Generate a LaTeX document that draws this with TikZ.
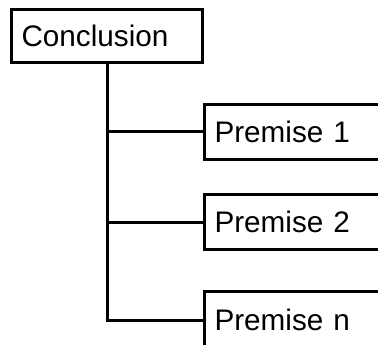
\documentclass[tikz,border=0pt]{standalone}
\usepackage{fontspec}
\setmainfont{Liberation Sans}
\usetikzlibrary{positioning}

\tikzset{
    argbox/.style={draw, line width=3pt, anchor=north west, inner xsep=10pt,
        align=left, minimum height=55pt, font=\fontsize{29.7}{34}\selectfont}
}

\begin{document}
\begin{tikzpicture}[x=1pt, y=-1pt]
            \clip (0,0) rectangle (378,345);

            \node[argbox, text width=171pt, minimum height=53pt] at (10,8) (concl) {Conclusion};

            \node[argbox, text width=170pt] at (203,103) (p1) {Premise 1};
            \node[argbox, text width=170pt] at (203,193) (p2) {Premise 2};
            \node[argbox, text width=170pt, minimum height=57pt] at (203,290) (pn) {Premise n};

            \draw[-, line width = 3pt] (concl.south) |- (pn.west);
            \draw[-, line width = 3pt] (concl.south |- p1.west) -- (p1.west);
            \draw[-, line width = 3pt] (concl.south |- p2.west) -- (p2.west);
        \end{tikzpicture}
\end{document}
